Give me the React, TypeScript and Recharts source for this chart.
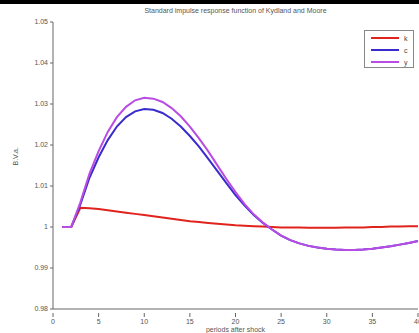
import React from 'react';
import { LineChart, Line, XAxis, YAxis } from 'recharts';

const periods = [
  1, 2, 3, 4, 5, 6, 7, 8, 9, 10, 11, 12, 13, 14, 15, 16, 17, 18, 19, 20,
  21, 22, 23, 24, 25, 26, 27, 28, 29, 30, 31, 32, 33, 34, 35, 36, 37, 38, 39, 40,
];

const kValues = [
  1, 1, 1.0047, 1.0046, 1.0044, 1.0041, 1.0038, 1.0035, 1.0032, 1.0029,
  1.0026, 1.0023, 1.002, 1.0017, 1.0014, 1.0012, 1.001, 1.0008, 1.0006, 1.0004,
  1.0003, 1.0002, 1.0001, 1.0, 0.9999, 0.9999, 0.9999, 0.9998, 0.9998, 0.9998,
  0.9998, 0.9999, 0.9999, 0.9999, 1.0, 1.0, 1.0001, 1.0001, 1.0002, 1.0002,
];

const cValues = [
  1, 1, 1.0055, 1.012, 1.017, 1.0212, 1.0245, 1.0268, 1.0282, 1.0288,
  1.0286, 1.0278, 1.0264, 1.0245, 1.0222, 1.0196, 1.0167, 1.0137, 1.0107, 1.0078,
  1.0052, 1.0029, 1.001, 0.9994, 0.9979, 0.9968, 0.996, 0.9954, 0.995, 0.9947,
  0.9945, 0.9944, 0.9944, 0.9945, 0.9947, 0.995, 0.9953, 0.9957, 0.9961, 0.9966,
];

const yValues = [
  1, 1, 1.006, 1.013, 1.0185, 1.0232, 1.0268, 1.0293, 1.0309, 1.0315,
  1.0313, 1.0305, 1.029, 1.027, 1.0245, 1.0216, 1.0185, 1.0151, 1.0117, 1.0085,
  1.0056, 1.0031, 1.0011, 0.9994, 0.9979, 0.9968, 0.996, 0.9954, 0.995, 0.9947,
  0.9945, 0.9944, 0.9944, 0.9945, 0.9947, 0.995, 0.9953, 0.9957, 0.9961, 0.9966,
];

const seriesNames = ['k', 'c', 'y'];
const seriesColors = ['#e0231c', '#3a2ccc', '#b94ce2'];
const xTicks = [0, 5, 10, 15, 20, 25, 30, 35, 40];
const yTicks = [0.98, 0.99, 1, 1.01, 1.02, 1.03, 1.04, 1.05];

const data = periods.map((p, i) => ({
  period: p,
  k: kValues[i],
  c: cValues[i],
  y: yValues[i],
}));

const FONT = 'Arial, "Liberation Sans", sans-serif';

const XTick = (props: any) => {
  const { x, y, payload } = props;
  return (
    <g>
      <line x1={x} x2={x} y1={y} y2={y - 4} stroke="#666" />
      <text x={x} y={y + 7} textAnchor="middle" fontSize={7} fill="#555" fontFamily={FONT}>
        {payload.value}
      </text>
    </g>
  );
};

// legend drawn outside the chart so it doesn't eat into the plot area
const LegendBox = () => (
  <div
    style={{
      position: 'absolute',
      left: 364,
      top: 30,
      width: 50,
      height: 38,
      border: '1px solid #888',
      background: '#fff',
      boxSizing: 'border-box',
      fontFamily: FONT,
      fontSize: 7,
      color: '#444',
    }}
  >
    {seriesNames.map((name, i) => (
      <div key={name} style={{ display: 'flex', alignItems: 'center', height: 12, marginTop: i === 0 ? 1 : 0 }}>
        <div style={{ width: 28, height: 2, background: seriesColors[i], marginLeft: 6 }} />
        <span style={{ marginLeft: 5 }}>{name}</span>
      </div>
    ))}
  </div>
);

const App: React.FC = () => {
  return (
    <div style={{ position: 'fixed', left: 0, top: 0, width: 419, height: 333, background: '#fff' }}>
      <div style={{ position: 'absolute', left: 0, top: 0, width: 419, height: 4, background: '#000' }} />
      <div
        style={{
          position: 'absolute',
          left: 53,
          width: 365,
          top: 7,
          textAlign: 'center',
          fontFamily: FONT,
          fontSize: 7,
          color: '#555',
        }}
      >
        Standard impulse response function of Kydland and Moore
      </div>
      <LineChart
        width={419}
        height={333}
        data={data}
        margin={{ top: 22, right: 1, bottom: 0, left: 0 }}
      >
        <XAxis
          dataKey="period"
          type="number"
          domain={[0, 40]}
          ticks={xTicks}
          axisLine={{ stroke: '#666' }}
          tickLine={false}
          tick={<XTick />}
          height={24}
          interval={0}
          label={{
            value: 'periods after shock',
            position: 'insideBottom',
            offset: 1,
            fontSize: 7,
            fill: '#555',
            fontFamily: FONT,
          }}
        />
        <YAxis
          type="number"
          domain={[0.98, 1.05]}
          ticks={yTicks}
          width={53}
          interval={0}
          allowDataOverflow
          axisLine={{ stroke: '#666' }}
          tickLine={{ stroke: '#666' }}
          tickSize={3}
          tick={{ fontSize: 7, fill: '#555', fontFamily: FONT }}
          tickFormatter={(v: number) => (v === 1 ? '1' : v.toFixed(2))}
          label={{
            value: 'B.V.a.',
            angle: -90,
            position: 'insideLeft',
            offset: 16,
            fontSize: 7,
            fill: '#555',
            fontFamily: FONT,
          }}
        />
        {seriesNames.map((name, i) => (
          <Line
            key={name}
            dataKey={name}
            name={name}
            stroke={seriesColors[i]}
            strokeWidth={2}
            dot={false}
            isAnimationActive={false}
          />
        ))}
      </LineChart>
      <LegendBox />
    </div>
  );
};

export default App;
